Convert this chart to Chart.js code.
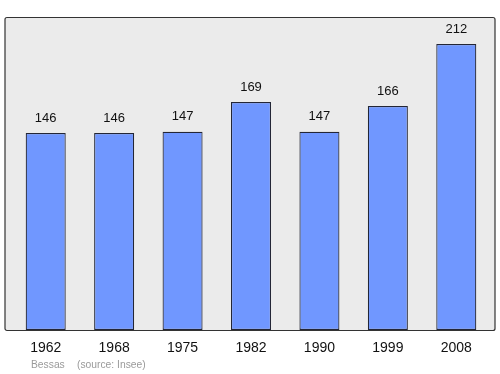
<!DOCTYPE html>
<html><head><meta charset="utf-8">
<script src="https://cdn.jsdelivr.net/npm/chart.js@4/dist/chart.umd.min.js"></script>
<style>html,body{margin:0;padding:0;background:#fff}#wrap{width:500px;height:374px}</style>
</head><body><div id="wrap"><canvas id="c" width="500" height="374"></canvas></div>
<script>
const years = ['1962','1968','1975','1982','1990','1999','2008'];
const population = [146,146,147,169,147,166,212];
const footerName = 'Bessas';
const footerSource = '(source: Insee)';

const bgPlugin = {
  id: 'bg',
  beforeDraw(chart) {
    const {ctx, chartArea: a} = chart;
    ctx.save();
    ctx.fillStyle = '#ebebeb';
    ctx.beginPath();
    ctx.roundRect(a.left - 6.5, a.top + 0.5, a.width + 11, a.height, 2);
    ctx.fill();
    ctx.restore();
  },
  afterDatasetsDraw(chart) {
    const {ctx, chartArea: a} = chart;
    ctx.save();
    ctx.strokeStyle = '#333';
    ctx.lineWidth = 1.2;
    ctx.beginPath();
    ctx.roundRect(a.left - 6.5, a.top + 0.5, a.width + 11, a.height, 2);
    ctx.stroke();
    const meta = chart.getDatasetMeta(0);
    ctx.fillStyle = '#111';
    ctx.font = '13px "Liberation Sans", Arial, sans-serif';
    ctx.textAlign = 'center';
    ctx.textBaseline = 'middle';
    meta.data.forEach((el, i) => {
      ctx.fillText(String(population[i]), el.x, el.y - 15);
    });
    ctx.fillStyle = '#9a9a9a';
    ctx.font = '10.3px "Liberation Sans", Arial, sans-serif';
    ctx.textAlign = 'left';
    ctx.fillText(footerName, 31, 365);
    ctx.fillText(footerSource, 77, 365);
    ctx.restore();
  }
};

new Chart(document.getElementById('c'), {
  type: 'bar',
  data: {
    labels: years,
    datasets: [{
      data: population,
      backgroundColor: '#7097ff',
      borderColor: '#232636',
      borderWidth: 1.2,
      borderSkipped: false,
      categoryPercentage: 1,
      barPercentage: 0.585
    }]
  },
  options: {
    responsive: false,
    animation: false,
    layout: {padding: {left: 11.5, right: 9.5, top: 17, bottom: 0}},
    plugins: {legend: {display: false}, tooltip: {enabled: false}},
    scales: {
      x: {
        grid: {display: false, drawTicks: false},
        border: {display: false},
        ticks: {color: '#111', font: {size: 14, family: '"Liberation Sans", Arial, sans-serif'}, padding: 10},
        afterFit(s) { s.height = 44; }
      },
      y: {display: false, min: 0, max: 232}
    }
  },
  plugins: [bgPlugin]
});
</script></body></html>
